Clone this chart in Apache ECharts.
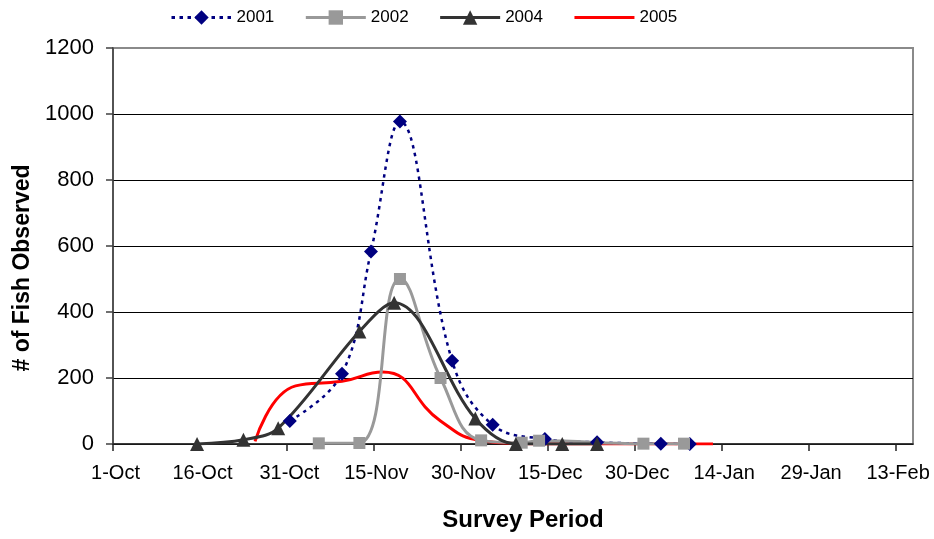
<!DOCTYPE html>
<html>
<head>
<meta charset="utf-8">
<script src="https://cdn.jsdelivr.net/npm/echarts@6/dist/echarts.min.js"></script>
<style>
html,body{margin:0;padding:0;background:#fff;}
#chart{width:934px;height:539px;}
</style>
</head>
<body>
<div id="chart"></div>
<script>
// Tick labels on the date axis (every 15 days from 1-Oct)
const tickLabels = ['1-Oct','16-Oct','31-Oct','15-Nov','30-Nov','15-Dec','30-Dec','14-Jan','29-Jan','13-Feb'];

// Survey dates (MM-DD) and counts per season
const dates2001 = ['10-31','11-09','11-14','11-19','11-28','12-05','12-14','12-23','01-03','01-08'];
const fish2001  = [70, 213, 583, 977, 252, 58, 15, 5, 1, 0];

const dates2002 = ['11-05','11-12','11-19','11-26','12-03','12-10','12-13','12-31','01-07'];
const fish2002  = [2, 3, 500, 200, 11, 4, 10, 1, 1];

const dates2004 = ['10-15','10-23','10-29','11-12','11-18','12-02','12-09','12-17','12-23'];
const fish2004  = [0, 13, 48, 341, 428, 77, 0, 0, 0];

const dates2005 = ['10-25','11-01','11-09','11-16','11-26','12-03','12-10','12-17','12-24','12-31','01-07','01-12'];
const fish2005  = [8, 176, 190, 218, 70, 10, 1, 0, 0, 0, 0, 0];

const seriesNames = ['2001','2002','2004','2005'];

// day index since 1-Oct; each day occupies one slot, points sit at the slot centre
function dayIndex(s) {
  const p = s.split('-').map(Number);
  const y = p[0] < 7 ? 2002 : 2001;
  return (Date.UTC(y, p[0] - 1, p[1]) - Date.UTC(2001, 9, 1)) / 86400000;
}
function pairs(dates, vals) {
  return dates.map((d, i) => [dayIndex(d) + 0.5, vals[i]]);
}

const FONT = '"Liberation Sans", Arial, sans-serif';
const chart = echarts.init(document.getElementById('chart'), null, {renderer: 'canvas'});

chart.setOption({
  animation: false,
  backgroundColor: '#ffffff',
  textStyle: {fontFamily: FONT},
  legend: {
    data: ['2001', '2002', '2004', {name: '2005', itemStyle: {opacity: 0}}],
    left: 165,
    top: 4,
    itemWidth: 60,
    itemHeight: 18,
    itemGap: 30,
    lineStyle: {width: 3},
    textStyle: {fontFamily: FONT, fontSize: 17, color: '#000'}
  },
  grid: {
    left: 113, right: 21, top: 48, bottom: 95,
    show: true, borderColor: '#8a8a8a', borderWidth: 2, backgroundColor: '#fff'
  },
  xAxis: {
    type: 'value',
    min: 0, max: 138, interval: 15,
    name: 'Survey Period',
    nameLocation: 'middle',
    nameGap: 64,
    nameTextStyle: {fontFamily: FONT, fontSize: 24, fontWeight: 'bold', color: '#000', padding: [0, 0, 0, 20]},
    axisLine: {lineStyle: {color: '#222', width: 1.5}},
    axisTick: {length: 7, lineStyle: {color: '#222', width: 1.5}},
    axisLabel: {
      fontFamily: FONT, fontSize: 20, color: '#000', margin: 19,
      padding: [0, 0, 0, 5],
      showMaxLabel: false,
      formatter: v => (v % 15 === 0 ? (tickLabels[v / 15] || '') : '')
    },
    splitLine: {show: false}
  },
  yAxis: {
    type: 'value',
    min: 0, max: 1200, interval: 200,
    name: '# of Fish Observed',
    nameLocation: 'middle',
    nameGap: 76,
    nameTextStyle: {fontFamily: FONT, fontSize: 23, fontWeight: 'bold', color: '#000', padding: [0, 44, 0, 0]},
    axisLine: {show: true, lineStyle: {color: '#404040', width: 1.5}},
    axisTick: {show: true, length: 7, lineStyle: {color: '#404040', width: 1.5}},
    axisLabel: {fontFamily: FONT, fontSize: 22, color: '#000', margin: 19, formatter: v => String(v)},
    splitLine: {lineStyle: {color: ['#000','#000','#000','#000','#000','#000','#8a8a8a'], width: 1}}
  },
  series: [
    {
      name: '2001', type: 'line', data: pairs(dates2001, fish2001),
      smooth: 0.4, symbol: 'diamond', symbolSize: 14, z: 3,
      itemStyle: {color: '#000080'},
      lineStyle: {color: '#000080', width: 2.5, type: [3.5, 4.5]}
    },
    {
      name: '2002', type: 'line', data: pairs(dates2002, fish2002),
      smooth: 0.45, symbol: 'rect', symbolSize: 12, z: 3,
      itemStyle: {color: '#999999'},
      lineStyle: {color: '#999999', width: 3}
    },
    {
      name: '2004', type: 'line', data: pairs(dates2004, fish2004),
      smooth: 0.35, symbol: 'triangle', symbolSize: 14, z: 3,
      itemStyle: {color: '#333333'},
      lineStyle: {color: '#333333', width: 3}
    },
    {
      name: '2005', type: 'line', data: pairs(dates2005, fish2005),
      smooth: 0.5, symbol: 'none', z: 2,
      itemStyle: {color: '#ff0000'},
      lineStyle: {color: '#ff0000', width: 3}
    }
  ]
});
</script>
</body>
</html>
